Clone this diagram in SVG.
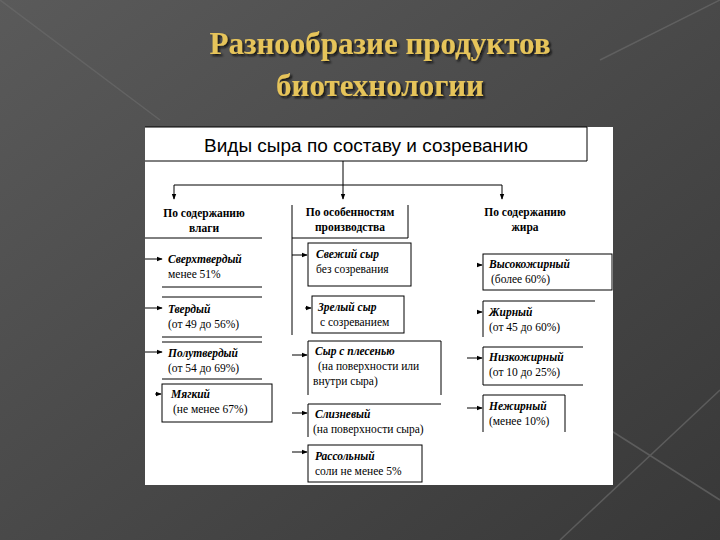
<svg xmlns="http://www.w3.org/2000/svg" width="720" height="540" viewBox="0 0 720 540">
<defs>
<linearGradient id="bg" x1="0" y1="0" x2="1" y2="1"><stop offset="0" stop-color="#5a5a5a"/><stop offset="1" stop-color="#383838"/></linearGradient>
<filter id="sh" x="-5%" y="-20%" width="110%" height="140%"><feDropShadow dx="2" dy="2" stdDeviation="0.8" flood-color="#111" flood-opacity="0.9"/></filter>
<marker id="a" viewBox="0 0 8 8" refX="7" refY="4" markerWidth="6" markerHeight="6" orient="auto"><path d="M0,1 L8,4 L0,7 Z" fill="#000"/></marker>
<style>
.l{stroke:#000;stroke-width:1;fill:none}
.b{font-family:"Liberation Serif","DejaVu Serif",serif;font-size:11.5px;font-weight:bold;font-style:italic}
.n{font-family:"Liberation Serif","DejaVu Serif",serif;font-size:11.5px}
.h{font-family:"Liberation Serif","DejaVu Serif",serif;font-size:11.5px;font-weight:bold;text-anchor:middle}
.t{font-family:"Liberation Serif","DejaVu Serif",serif;font-size:31px;font-weight:bold;text-anchor:middle;fill:#e6c45a;filter:url(#sh)}
</style>
</defs>
<rect width="720" height="540" fill="url(#bg)"/>
<g stroke="#6a6a6a" stroke-width="1.5" fill="none" opacity="0.7">
<path d="M0,0 L160,120"/><path d="M720,0 L600,60"/><path d="M720,390 L560,540"/><path d="M610,430 L720,500"/>
</g>
<g id="title">
<text class="t" x="380" y="54">Разнообразие продуктов</text>
<text class="t" x="380" y="96">биотехнологии</text>
</g>
<rect x="145" y="127" width="468" height="358" fill="#fff"/>
<g id="connectors" class="l">
<path d="M343,161 V185 M174,185 H502"/>
<path d="M174,185 V199" marker-end="url(#a)"/><path d="M343,185 V199" marker-end="url(#a)"/><path d="M502,185 V199" marker-end="url(#a)"/>
<path d="M145,259 H162" marker-end="url(#a)"/>
<path d="M145,308 H162" marker-end="url(#a)"/>
<path d="M145,352 H162" marker-end="url(#a)"/>
<path d="M155,394 H161" marker-end="url(#a)"/>
<path d="M292,205 V335"/>
<path d="M292,255 H307" marker-end="url(#a)"/>
<path d="M305,308 H311" marker-end="url(#a)"/>
<path d="M292,355 H307" marker-end="url(#a)"/>
<path d="M292,413 H307" marker-end="url(#a)"/>
<path d="M292,452 H307" marker-end="url(#a)"/>
<path d="M477,265 H482" marker-end="url(#a)"/>
<path d="M477,312 H482" marker-end="url(#a)"/>
<path d="M467,358 H482" marker-end="url(#a)"/>
<path d="M467,408 H482" marker-end="url(#a)"/>
</g>
<g id="root"><path class="l" d="M145,127 H587 V161 H145"/><text x="366" y="152" text-anchor="middle" font-family="Liberation Sans,Arial,sans-serif" font-size="19">Виды сыра по составу и созреванию</text></g>
<g id="h1"><text class="h" x="204" y="217">По содержанию</text><text class="h" x="204" y="232">влаги</text><path class="l" d="M145,238 H262"/></g>
<g id="h2"><text class="h" x="350" y="216">По особенностям</text><text class="h" x="350" y="231">производства</text><path class="l" d="M292,238 H408 V205"/></g>
<g id="h3"><text class="h" x="525" y="216">По содержанию</text><text class="h" x="525" y="231">жира</text></g>
<g id="l1"><text class="b" x="168" y="263">Сверхтвердый</text><text class="n" x="168" y="278">менее 51%</text><path class="l" d="M162,287 H262"/></g>
<g id="l2"><path class="l" d="M162,297 H262"/><text class="b" x="168" y="313">Твердый</text><text class="n" x="168" y="328">(от 49 до 56%)</text><path class="l" d="M162,337 H262 M162,342 H262"/></g>
<g id="l3"><text class="b" x="168" y="357">Полутвердый</text><text class="n" x="168" y="372">(от 54 до 69%)</text><path class="l" d="M162,379 H262"/></g>
<g id="l4"><rect class="l" x="162" y="384" width="110" height="38"/><text class="b" x="171" y="398">Мягкий</text><text class="n" x="173" y="413">(не менее 67%)</text></g>
<g id="m1"><rect class="l" x="308" y="243" width="103" height="43"/><text class="b" x="316" y="258">Свежий сыр</text><text class="n" x="316" y="273">без созревания</text></g>
<g id="m2"><rect class="l" x="312" y="296" width="92" height="37"/><text class="b" x="318" y="311">Зрелый сыр</text><text class="n" x="320" y="326">с созреванием</text></g>
<g id="m3"><path class="l" d="M308,395 V341 H441 V395"/><text class="b" x="315" y="355">Сыр с плесенью</text><text class="n" x="318" y="370">(на поверхности или</text><text class="n" x="313" y="385">внутри сыра)</text></g>
<g id="m4"><path class="l" d="M308,437 V404 H441"/><text class="b" x="315" y="418">Слизневый</text><text class="n" x="313" y="433">(на поверхности сыра)</text></g>
<g id="m5"><rect class="l" x="308" y="445" width="114" height="37"/><text class="b" x="315" y="460">Рассольный</text><text class="n" x="315" y="475">соли не менее 5%</text></g>
<g id="r1"><rect class="l" x="483" y="254" width="129" height="36"/><text class="b" x="489" y="268">Высокожирный</text><text class="n" x="491" y="283">(более 60%)</text></g>
<g id="r2"><path class="l" d="M483,337 V301 H595"/><text class="b" x="489" y="316">Жирный</text><text class="n" x="489" y="331">(от 45 до 60%)</text></g>
<g id="r3"><path class="l" d="M583,347 H483 V385 H583"/><text class="b" x="489" y="361">Низкожирный</text><text class="n" x="489" y="376">(от 10 до 25%)</text></g>
<g id="r4"><path class="l" d="M483,432 V395 H565 V432"/><text class="b" x="489" y="410">Нежирный</text><text class="n" x="489" y="425">(менее 10%)</text></g>
</svg>
